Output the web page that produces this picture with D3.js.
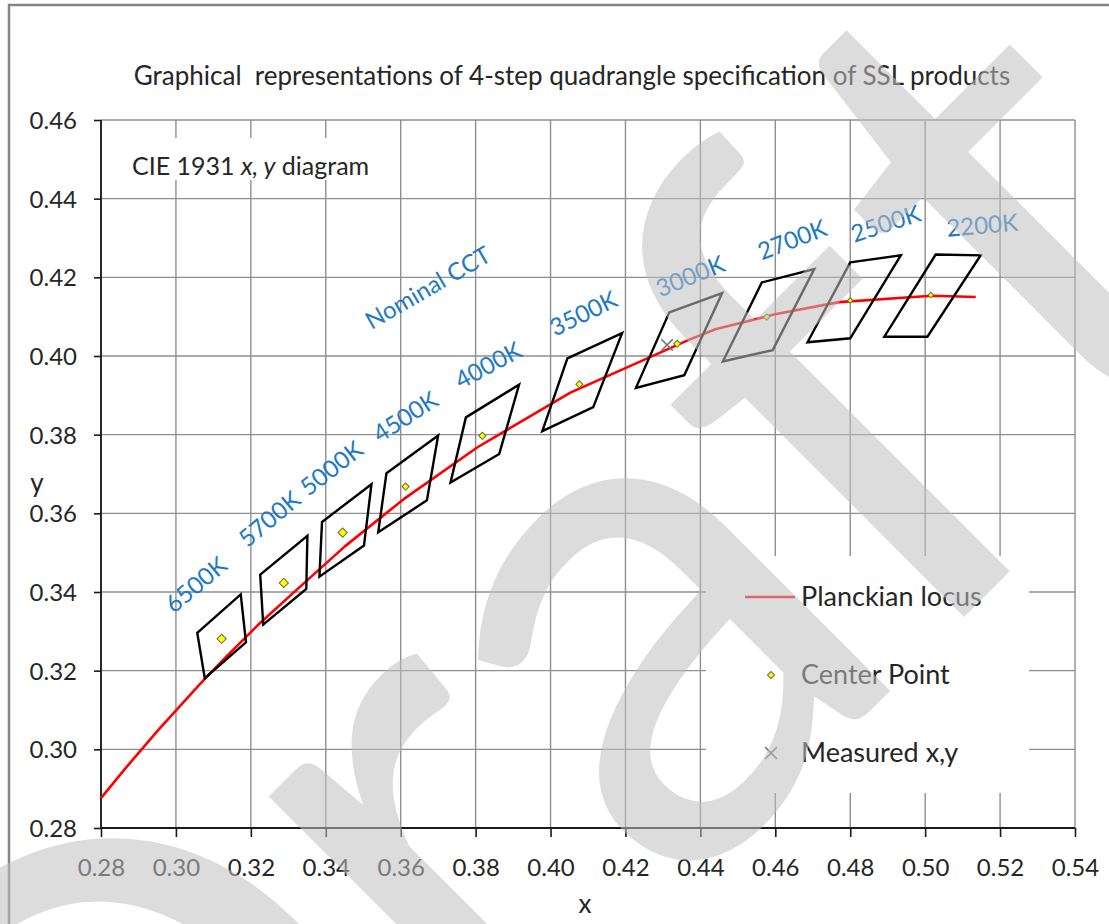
<!DOCTYPE html>
<html><head><meta charset="utf-8">
<script src="https://cdn.jsdelivr.net/npm/d3@7"></script>
<style>
html,body{margin:0;padding:0;background:#fff;}
svg{display:block;font-family:Lato,"Open Sans",sans-serif;}
</style></head>
<body>
<svg id="chart" width="1109" height="924"></svg>
<script>
// ---------------- data ----------------
const xTicks = [0.28,0.30,0.32,0.34,0.36,0.38,0.40,0.42,0.44,0.46,0.48,0.50,0.52,0.54];
const yTicks = [0.28,0.30,0.32,0.34,0.36,0.38,0.40,0.42,0.44,0.46];

const cctNames = ["6500K","5700K","5000K","4500K","4000K","3500K","3000K","2700K","2500K","2200K"];

// Planckian locus (CIE 1931 x, y)
const locusX = [0.2800,0.2869,0.2952,0.3064,0.3135,0.3221,0.3325,0.3451,0.3608,0.3805,0.4053,0.4369,0.4440,0.4599,0.4770,0.5018,0.5135];
const locusY = [0.2876,0.2956,0.3048,0.3166,0.3236,0.3318,0.3408,0.3516,0.3636,0.3768,0.3907,0.4041,0.4068,0.4106,0.4137,0.4153,0.4150];

// quadrangle corners (top-left, top-right, bottom-right, bottom-left)
const quadX = [
  [0.3057,0.3173,0.3187,0.3077],
  [0.3225,0.3351,0.3348,0.3233],
  [0.3390,0.3522,0.3502,0.3383],
  [0.3562,0.3700,0.3670,0.3540],
  [0.3774,0.3916,0.3863,0.3733],
  [0.4045,0.4191,0.4114,0.3978],
  [0.4317,0.4458,0.4357,0.4228],
  [0.4564,0.4704,0.4593,0.4460],
  [0.4800,0.4935,0.4800,0.4686],
  [0.5028,0.5148,0.5006,0.4891]
];
const quadY = [
  [0.3296,0.3394,0.3272,0.3181],
  [0.3444,0.3543,0.3408,0.3317],
  [0.3578,0.3674,0.3518,0.3439],
  [0.3702,0.3798,0.3633,0.3552],
  [0.3844,0.3927,0.3751,0.3678],
  [0.3994,0.4058,0.3870,0.3809],
  [0.4111,0.4160,0.3951,0.3919],
  [0.4187,0.4221,0.4015,0.3986],
  [0.4238,0.4256,0.4045,0.4035],
  [0.4258,0.4256,0.4049,0.4049]
];

// centre points
const centerX = [0.3122,0.3288,0.3445,0.3613,0.3818,0.4077,0.4338,0.4577,0.4800,0.5015];
const centerY = [0.3281,0.3423,0.3551,0.3668,0.3797,0.3928,0.4031,0.4099,0.4141,0.4155];

// measured point
const measuredX = [0.4311];
const measuredY = [0.4028];

// CCT label anchors (data units) and text angles
const labelX = [0.2995,0.3191,0.3354,0.3545,0.3760,0.4012,0.4293,0.4564,0.4811,0.5059];
const labelY = [0.3344,0.3511,0.3642,0.3778,0.3915,0.4049,0.4149,0.4243,0.4288,0.4303];
const labelAngle = [-40,-40,-38,-33,-28,-26,-22,-21,-18,-5];

const legendNames = ["Planckian locus","Center Point","Measured x,y"];
const watermarkLetters = ["D","r","a","f","t"];

// ---------------- styles ----------------
const markerSide = [6.5,6.5,6.5,5,5,5,5,4.5,4,4];
const blue = "#2279c3";
const textCol = "#262626";
const watermarkDX = [-955,-424,-170,171,440]; // glyph origins along the rotated baseline (px)
const watermarkDY = [0,0,0,0,-15];

// ---------------- drawing ----------------
const svg = d3.select("#chart");
const W = 1109, H = 924;
const plot = {left:101, right:1075, top:120, bottom:828};

const x = d3.scaleLinear().domain([0.28,0.54]).range([plot.left, plot.right]);
const y = d3.scaleLinear().domain([0.28,0.46]).range([plot.bottom, plot.top]);

svg.append("rect").attr("width",W).attr("height",H).attr("fill","#fff");

// outer frame
svg.append("rect").attr("x",9).attr("y",5).attr("width",1200).attr("height",1000)
  .attr("fill","none").attr("stroke","#858585").attr("stroke-width",2.5);

// grid
const grid = svg.append("g");
grid.selectAll("line.v").data(xTicks).join("line").attr("class","v")
  .attr("x1",d=>x(d)).attr("x2",d=>x(d)).attr("y1",plot.top).attr("y2",plot.bottom)
  .attr("stroke","#8f8f8f").attr("stroke-width",1.4);
grid.selectAll("line.h").data(yTicks).join("line").attr("class","h")
  .attr("y1",d=>y(d)).attr("y2",d=>y(d)).attr("x1",plot.left).attr("x2",plot.right)
  .attr("stroke","#8f8f8f").attr("stroke-width",1.4);

// white boxes (diagram label, legend)
svg.append("rect").attr("x",112).attr("y",138).attr("width",276).attr("height",42).attr("fill","#fff");
svg.append("rect").attr("x",706).attr("y",556).attr("width",323).attr("height",237).attr("fill","#fff");

// axes
const xAxis = d3.axisBottom(x).tickValues(xTicks).tickFormat(d3.format(".2f")).tickSize(9).tickPadding(10);
const yAxis = d3.axisLeft(y).tickValues(yTicks).tickFormat(d3.format(".2f")).tickSize(7).tickPadding(17);
const gx = svg.append("g").attr("transform",`translate(0,${plot.bottom})`).call(xAxis);
const gy = svg.append("g").attr("transform",`translate(${plot.left},0)`).call(yAxis);
[gx,gy].forEach(g=>{
  g.select(".domain").attr("stroke","#1a1a1a").attr("stroke-width",1.8);
  g.selectAll(".tick line").attr("stroke","#1a1a1a").attr("stroke-width",1.6);
  g.selectAll(".tick text").attr("fill",textCol).style("font-family","Lato, sans-serif").style("font-size","24px");
});
gx.select(".domain").attr("d",`M${plot.left},0H${plot.right}`);
gy.select(".domain").attr("d",`M0,${plot.bottom}V${plot.top}`);
gx.selectAll(".tick text").attr("y",31).attr("dy","0.71em");
gy.selectAll(".tick text").attr("x",-24).attr("dy","0.35em");

// axis titles
svg.append("text").attr("x",585).attr("y",913).attr("text-anchor","middle")
  .attr("fill",textCol).style("font-size","26px").text("x");
svg.append("text").attr("x",37).attr("y",492).attr("text-anchor","middle")
  .attr("fill",textCol).style("font-size","26px").text("y");

// title
svg.append("text").attr("x",572).attr("y",85).attr("text-anchor","middle")
  .attr("fill",textCol).style("font-size","26px").style("white-space","pre")
  .text("Graphical  representations of 4-step quadrangle specification of SSL products");

// CIE label
const cie = svg.append("text").attr("x",132).attr("y",175).attr("fill",textCol).style("font-size","25px");
cie.append("tspan").text("CIE 1931 ");
cie.append("tspan").style("font-style","italic").text("x, y");
cie.append("tspan").text(" diagram");

// Planckian locus
const locus = locusX.map((v,i)=>[v,locusY[i]]);
svg.append("path").datum(locus)
  .attr("d",d3.line().x(d=>x(d[0])).y(d=>y(d[1])))
  .attr("fill","none").attr("stroke","#ff0000").attr("stroke-width",2.6).attr("stroke-linejoin","round");

// quadrangles
const quads = quadX.map((xs,i)=>xs.map((v,j)=>[v,quadY[i][j]]));
svg.append("g").selectAll("path").data(quads).join("path")
  .attr("d",d=>d3.line().x(p=>x(p[0])).y(p=>y(p[1])).curve(d3.curveLinearClosed)(d))
  .attr("fill","none").attr("stroke","#000").attr("stroke-width",2.4).attr("stroke-linejoin","miter");

// centre points
svg.append("g").selectAll("path").data(centerX.map((v,i)=>({x:v,y:centerY[i],s:markerSide[i]})))
  .join("path")
  .attr("d",d=>d3.symbol(d3.symbolSquare, d.s*d.s)())
  .attr("transform",d=>`translate(${x(d.x)},${y(d.y)}) rotate(45)`)
  .attr("fill","#ffff00").attr("stroke","#6b6b3a").attr("stroke-width",1);

// measured point
svg.append("g").selectAll("path").data(measuredX.map((v,i)=>[v,measuredY[i]]))
  .join("path")
  .attr("d",d3.symbol(d3.symbolX, 90)())
  .attr("transform",d=>`translate(${x(d[0])},${y(d[1])})`)
  .attr("fill","none").attr("stroke","#7a7a7a").attr("stroke-width",1.6);

// CCT labels
svg.append("g").selectAll("text").data(cctNames).join("text")
  .attr("transform",(d,i)=>`translate(${x(labelX[i])},${y(labelY[i])}) rotate(${labelAngle[i]})`)
  .attr("fill",blue).style("font-size","24px").text(d=>d);

// Nominal CCT
svg.append("text")
  .attr("transform",`translate(${x(0.3522)},${y(0.4066)}) rotate(-30)`)
  .attr("fill",blue).style("font-size","24px").text("Nominal CCT");

// legend
const lg = svg.append("g");
lg.append("line").attr("x1",745).attr("x2",795).attr("y1",597).attr("y2",597)
  .attr("stroke","#ff0000").attr("stroke-width",2.4);
lg.append("path").attr("d",d3.symbol(d3.symbolSquare,25)())
  .attr("transform","translate(771,675) rotate(45)")
  .attr("fill","#ffff00").attr("stroke","#6b6b3a").attr("stroke-width",1);
lg.append("path").attr("d",d3.symbol(d3.symbolX,90)())
  .attr("transform","translate(771,753)")
  .attr("fill","none").attr("stroke","#7a7a7a").attr("stroke-width",1.6);
lg.selectAll("text").data(legendNames).join("text")
  .attr("x",801).attr("y",(d,i)=>606+i*78)
  .attr("fill",textCol).style("font-size","27px").text(d=>d);

// watermark (drawn on top, semi-transparent)
const wm = svg.append("text")
  .attr("transform","translate(790.5,790.5) rotate(-45)")
  .attr("fill","#c0c0c0").attr("opacity",0.55)
  .style("font-family","Lato, sans-serif").style("font-size","720px");
wm.selectAll("tspan").data(watermarkLetters).join("tspan")
  .attr("x",(d,i)=>watermarkDX[i]).attr("y",(d,i)=>watermarkDY[i]).text(d=>d);
</script>
</body></html>
